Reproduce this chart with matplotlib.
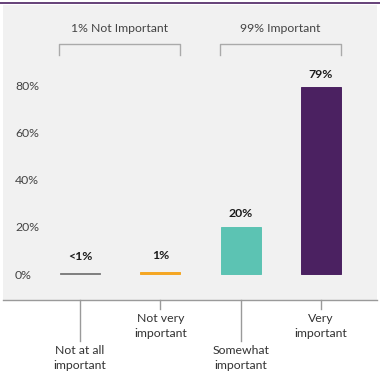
import matplotlib
matplotlib.use("Agg")
import matplotlib.pyplot as plt
from matplotlib.lines import Line2D

categories = ["Not at all\nimportant", "Not very\nimportant", "Somewhat\nimportant", "Very\nimportant"]
values = [0.6, 1, 20, 79]
value_labels = ["<1%", "1%", "20%", "79%"]
colors = ["#808080", "#f5a623", "#5cc3b3", "#4b2161"]
yticks = [0, 20, 40, 60, 80]
ytick_labels = ["0%", "20%", "40%", "60%", "80%"]
group_labels = ["1% Not Important", "99% Important"]
group_members = [(0, 1), (2, 3)]

plt.rcParams['font.family'] = ['Lato', 'DejaVu Sans']
W, H = 380, 378
fig = plt.figure(figsize=(W / 100, H / 100), dpi=100)
fig.patch.set_facecolor("white")

left_px, right_px, top_px, bot_px = 3, 377, 5, 300
ax = fig.add_axes([left_px / W, (H - bot_px) / H, (right_px - left_px) / W, (bot_px - top_px) / H])
ax.set_facecolor("#f1f1f1")

step = 80.3
ax.set_xlim((left_px - 80) / step, (right_px - 80) / step)
ppp = 2.366  # pixels per percent
ax.set_ylim(-(bot_px - 274.3) / ppp, (274.3 - top_px) / ppp)

x = list(range(len(categories)))
bw = 0.5
ax.bar(x, values, width=bw, color=colors, edgecolor=colors, linewidth=0.7)

fs = 8.8
for xi, v, lab in zip(x, values, value_labels):
    off = 13 if v >= 5 else 16
    ax.annotate(lab, (xi, v), xytext=(0, off * 0.72), textcoords="offset points",
                ha="center", va="center", fontsize=fs, fontweight="bold", color="#1a1a1a")

ax.set_yticks(yticks)
ax.set_yticklabels(ytick_labels)
ax.tick_params(axis="y", length=0, pad=-(15 - left_px) * 0.72, labelsize=fs, labelcolor="#444444")
for t in ax.get_yticklabels():
    t.set_horizontalalignment("left")
ax.set_xticks([])
for s in ["top", "left", "right"]:
    ax.spines[s].set_visible(False)
ax.spines["bottom"].set_color("#9a9a9a")
ax.spines["bottom"].set_linewidth(1)

# brackets
ytop = (274.3 - 44) / ppp
ybot = (274.3 - 55) / ppp
ytxt = (274.3 - 28) / ppp
for (a, b), lab in zip(group_members, group_labels):
    x0, x1 = a - bw / 2 - 0.01, b + bw / 2
    ax.plot([x0, x0, x1, x1], [ybot, ytop, ytop, ybot], color="#aaaaaa", lw=1, clip_on=False)
    ax.text((x0 + x1) / 2, ytxt, lab, ha="center", va="center", fontsize=fs, color="#444444")

# leader lines and category labels below
ymin = ax.get_ylim()[0]
for i, (xi, cat) in enumerate(zip(x, categories)):
    long = (i % 2 == 0)
    end_px = 341 if long else 309
    yend = -(end_px - 274.3) / ppp
    ax.plot([xi, xi], [ymin, yend], color="#9a9a9a", lw=1, clip_on=False)
    ax.text(xi, yend - 4 / ppp, cat, ha="center", va="top", fontsize=fs,
            color="#333333", linespacing=1.4)

# top purple rule
fig.add_artist(Line2D([0, 1], [1 - 3 / H, 1 - 3 / H], color="#4b2161", lw=1.2))

fig.savefig("out.png", dpi=100, facecolor="white")
